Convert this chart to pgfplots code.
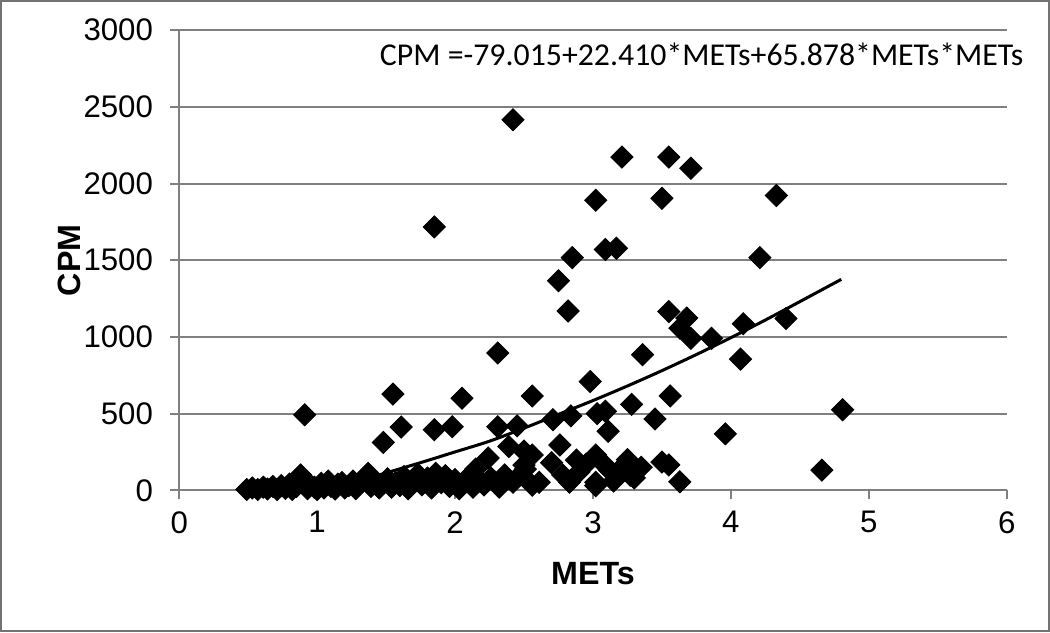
\documentclass[border=0pt]{standalone}
\usepackage{fontspec}
\setmainfont{Liberation Sans}
\newfontfamily\carlito{Carlito}
\usepackage{pgfplots}
\usepackage{pgfplotstable}
\pgfplotsset{compat=1.18}

% METs vs CPM
\pgfplotstableread{
x y
0.49 5
0.53 15
0.57 5
0.61 20
0.64 8
0.68 25
0.71 5
0.74 30
0.77 12
0.80 40
0.82 5
0.85 25
0.88 100
0.90 55
0.93 10
0.95 35
0.98 20
1.00 5
1.03 45
1.05 15
1.08 60
1.10 25
1.13 8
1.15 40
1.18 50
1.20 15
1.23 30
1.26 60
1.28 10
1.31 45
1.34 70
1.37 110
1.39 25
1.42 55
1.45 15
1.48 45
1.51 75
1.54 20
1.57 50
1.60 30
1.63 90
1.66 10
1.70 60
1.73 105
1.76 35
1.80 80
1.83 15
1.86 110
1.90 50
1.93 95
1.96 25
2.00 70
2.03 10
2.07 52
2.10 90
2.13 20
2.15 138
2.18 60
2.21 35
2.24 210
2.26 80
2.29 52
2.32 20
2.36 100
2.42 52
2.44 72
2.50 164
2.51 138
2.56 33
2.61 52
2.70 180
2.78 100
2.83 52
2.90 120
2.95 170
3.02 30
3.02 52
3.08 170
3.15 60
3.25 200
3.35 150
2.39 285
2.50 255
2.56 230
2.76 295
2.88 197
3.02 230
3.12 131
3.20 140
3.27 98
3.30 80
3.50 184
3.55 165
3.63 55
4.66 131
3.96 368
3.11 385
1.48 312
1.61 412
1.85 395
1.98 414
2.31 414
2.45 420
2.71 460
2.84 485
0.91 492
3.45 465
3.03 500
3.09 515
3.28 560
4.81 525
1.55 627
2.05 600
2.56 615
3.56 615
2.98 709
2.31 895
3.36 884
4.07 855
3.71 990
3.86 991
3.63 1057
4.09 1086
4.40 1120
3.68 1123
3.55 1165
2.82 1169
2.75 1366
2.85 1517
4.21 1517
3.09 1570
3.17 1578
1.85 1717
3.02 1891
3.50 1904
4.33 1922
3.71 2100
3.21 2173
3.55 2173
2.42 2416
}\metsdata

\begin{document}
\begin{tikzpicture}
\begin{axis}[
  scale only axis, width=411pt, height=228.5pt,
  xmin=0, xmax=6, ymin=0, ymax=3000,
  xtick={0,1,2,3,4,5,6}, ytick={0,500,...,3000},
  axis lines=left,
  axis line style={-, draw=black!50, line width=1pt},
  ymajorgrids, grid style={black!50, line width=1pt},
  tick align=outside, major tick length=4.5pt,
  tick style={black!50, line width=1pt},
  /pgf/number format/assume math mode=true,
  /pgf/number format/set thousands separator={},
  ticklabel style={font=\fontsize{15.5}{18}\selectfont},
  yticklabel style={xshift=-5pt},
  xticklabel style={yshift=-2.5pt},
  xlabel={METs},
  xlabel style={font=\fontsize{16}{19}\selectfont\bfseries,
    at={(axis description cs:0.5,0)}, anchor=base, yshift=-47pt},
  clip=false,
]
\addplot[only marks, mark=square*, mark size=3.9pt,
  mark options={rotate=45, fill=black, draw=black}] table[x=x, y=y] {\metsdata};

% trendline as drawn in the reference
\addplot[smooth, no marks, black, line width=1.5pt] coordinates {
  (1.45,100) (1.75,180) (2.0,250) (2.25,320) (2.5,405) (2.75,495) (3.0,585)
  (3.25,680) (3.5,780) (3.75,885) (4.0,995) (4.25,1110) (4.5,1230) (4.8,1375)
};

\node[rotate=90, anchor=base, font=\fontsize{16}{19}\selectfont\bfseries]
  at (axis description cs:-0.1197,0.5) {CPM};

\node[anchor=base west, font=\carlito\fontsize{15.8}{18}\selectfont, inner sep=0pt]
  at (axis cs:1.453,2771) {CPM =-79.015+22.410*METs+65.878*METs*METs};

\draw[black!55, line width=1pt]
  ([xshift=-88.5pt, yshift=-70pt]rel axis cs:0,0)
  rectangle ([xshift=21pt, yshift=14.5pt]rel axis cs:1,1);
\end{axis}
\end{tikzpicture}
\end{document}
